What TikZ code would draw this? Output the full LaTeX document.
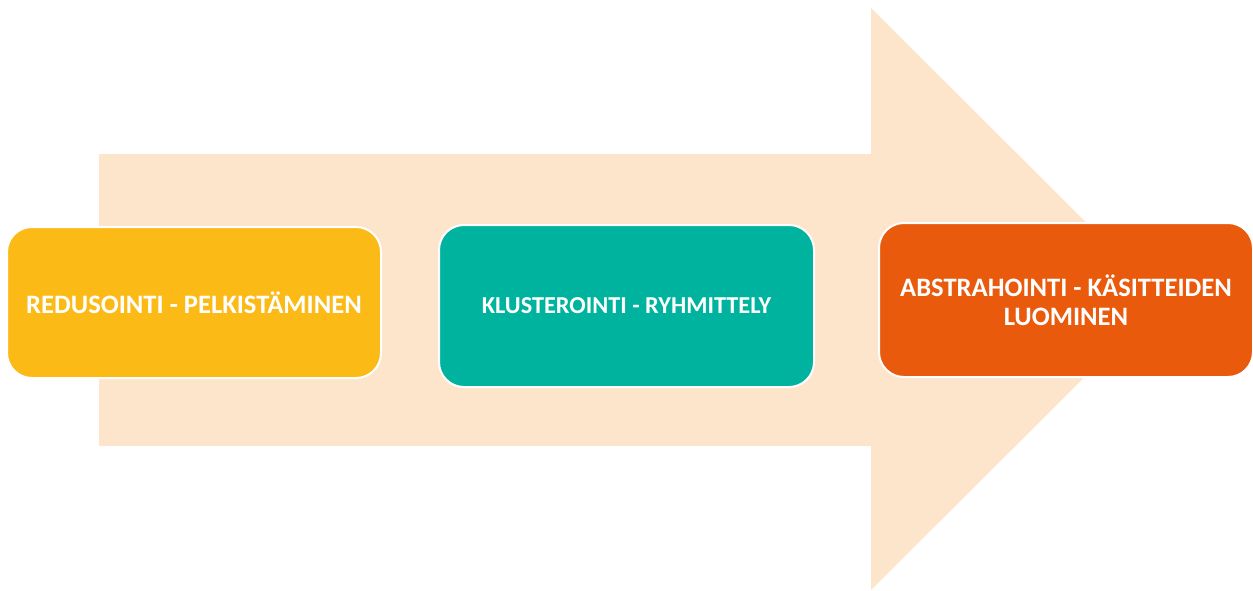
\documentclass[tikz,border=0pt]{standalone}
\usepackage{fontspec}
\setmainfont{Carlito}
\usepackage{tikz}
\definecolor{peach}{RGB}{253,229,204}
\definecolor{redyellow}{RGB}{251,186,22}
\definecolor{clustgreen}{RGB}{0,179,158}
\definecolor{abstrorange}{RGB}{234,90,12}

\begin{document}
\begin{tikzpicture}[x=1pt, y=-1pt,
  phase/.style={rectangle, rounded corners=25pt, draw=white, line width=2pt,
    text=white, align=center, inner sep=0pt,
    font=\bfseries\fontsize{26.6}{29}\selectfont}]
\useasboundingbox (0,0) rectangle (1253,590);
\fill [peach] (99,154) -- (871,154) -- (871,8) -- (1163,299) -- (871,590) -- (871,446) -- (99,446) -- cycle;
\node [phase, fill=redyellow, minimum width=374pt, minimum height=151pt] (reduce) at (194,302.5) {REDUSOINTI - PELKISTÄMINEN};
\node [phase, fill=clustgreen, minimum width=375pt, minimum height=162pt,
  font=\bfseries\fontsize{24.3}{29}\selectfont] (cluster) at (626.5,306) {KLUSTEROINTI - RYHMITTELY};
\node [phase, fill=abstrorange, minimum width=374pt, minimum height=154pt] (abstract) at (1066,300) {ABSTRAHOINTI - KÄSITTEIDEN\\LUOMINEN};
\end{tikzpicture}
\end{document}
